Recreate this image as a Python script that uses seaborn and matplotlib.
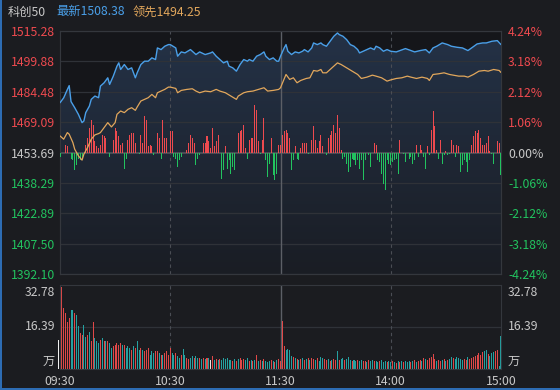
import numpy as np
import matplotlib
matplotlib.use("Agg")
import matplotlib.pyplot as plt
from matplotlib.colors import LinearSegmentedColormap
from matplotlib.patches import Rectangle
import seaborn as sns

# ── 数据 ─────────────────────────────────────────────
prev_close = 1453.69
last_price = 1508.38
last_lead = 1494.25
vol_max = 32.78

price_ticks = [1392.10, 1407.50, 1422.89, 1438.29, 1453.69, 1469.09, 1484.48, 1499.88, 1515.28]
price_labels = ["1392.10", "1407.50", "1422.89", "1438.29", "1453.69",
                "1469.09", "1484.48", "1499.88", "1515.28"]
pct_labels = ["-4.24%", "-3.18%", "-2.12%", "-1.06%", "0.00%",
              "1.06%", "2.12%", "3.18%", "4.24%"]
time_ticks = [0, 60, 120, 180, 240]
time_labels = ["09:30", "10:30", "11:30", "14:00", "15:00"]

# 最新价 (分钟序号, 点位)
blue_min = [0, 2, 4, 5, 6, 8, 10, 12, 13, 14, 16, 17, 19, 21, 22, 24, 26, 27, 29, 31,
            32, 33, 35, 37, 39, 41, 42, 44, 46, 48, 50, 52, 53, 55, 57, 59, 60, 63, 64, 66,
            68, 71, 72, 74, 76, 79, 82, 83, 85, 87, 89, 91, 92, 94, 96, 98, 100, 102, 103, 105,
            107, 109, 111, 112, 114, 116, 118, 119, 120, 122, 123, 124, 126, 128, 130, 132, 133, 135, 137, 138,
            140, 142, 143, 145, 147, 149, 151, 152, 154, 156, 158, 160, 162, 163, 165, 167, 169, 171, 172, 174,
            176, 178, 180, 183, 185, 188, 191, 193, 196, 199, 201, 203, 205, 208, 211, 213, 216, 219, 222, 224,
            227, 230, 232, 235, 238, 240]
blue_px = [1478.90, 1481.40, 1485.60, 1487.60, 1479.50, 1476.41, 1473.04, 1468.84, 1469.68, 1473.89,
           1477.25, 1480.62, 1482.30, 1481.46, 1487.35, 1489.03, 1491.56, 1488.19, 1492.40, 1497.45,
           1499.13, 1495.77, 1498.29, 1495.77, 1496.61, 1491.56, 1494.08, 1498.29, 1499.97, 1499.97,
           1501.66, 1500.81, 1506.70, 1505.86, 1507.55, 1508.39, 1508.39, 1506.70, 1502.50, 1504.68,
           1504.18, 1505.86, 1505.02, 1503.34, 1504.68, 1503.34, 1504.18, 1504.68, 1502.50, 1500.81,
           1499.13, 1499.97, 1497.45, 1496.61, 1494.92, 1498.29, 1500.81, 1499.97, 1500.81, 1499.97,
           1502.50, 1503.34, 1504.68, 1502.50, 1500.81, 1501.66, 1499.97, 1499.97, 1502.50, 1506.70,
           1508.39, 1505.02, 1503.34, 1504.68, 1504.18, 1505.02, 1505.86, 1504.68, 1506.70, 1509.23,
           1508.39, 1509.23, 1508.39, 1507.55, 1510.07, 1512.60, 1514.28, 1513.44, 1512.60, 1510.91,
           1508.39, 1507.55, 1505.86, 1504.18, 1505.02, 1505.86, 1506.70, 1505.86, 1507.55, 1506.70,
           1505.02, 1505.86, 1505.02, 1504.68, 1505.36, 1506.37, 1505.36, 1504.68, 1505.36, 1505.86,
           1504.18, 1506.70, 1507.55, 1509.23, 1508.39, 1507.55, 1507.04, 1506.70, 1505.36, 1506.70,
           1508.72, 1509.23, 1509.23, 1510.07, 1510.41, 1508.38]

# 领先指标
lead_min = [0, 2, 4, 5, 7, 8, 10, 12, 13, 15, 17, 19, 21, 22, 24, 26, 28, 30, 31, 33,
            35, 37, 39, 41, 42, 44, 46, 48, 50, 52, 53, 55, 57, 59, 60, 63, 64, 66, 69, 72,
            74, 76, 79, 82, 85, 87, 90, 93, 96, 97, 100, 102, 105, 108, 111, 113, 116, 119, 120, 123,
            125, 127, 129, 131, 134, 136, 138, 140, 142, 143, 145, 148, 151, 153, 156, 159, 162, 164, 167, 170,
            172, 175, 178, 180, 183, 186, 189, 191, 194, 197, 200, 201, 203, 206, 209, 212, 214, 217, 220, 222,
            225, 228, 231, 233, 236, 239, 240]
lead_px = [1462.11, 1460.42, 1463.79, 1462.95, 1458.74, 1455.37, 1452.01, 1449.82, 1452.85, 1456.21,
           1460.42, 1462.61, 1463.28, 1463.79, 1466.31, 1468.84, 1466.65, 1468.84, 1473.04, 1474.73,
           1473.89, 1475.57, 1476.41, 1475.06, 1476.75, 1479.78, 1480.62, 1481.46, 1483.14, 1481.46,
           1483.98, 1484.83, 1485.67, 1486.85, 1486.85, 1486.17, 1483.98, 1485.16, 1485.67, 1486.00,
           1484.83, 1483.98, 1484.83, 1484.49, 1485.67, 1484.83, 1483.98, 1482.30, 1480.62, 1482.30,
           1483.98, 1484.49, 1484.83, 1485.67, 1486.51, 1484.83, 1485.16, 1485.67, 1486.51, 1493.24,
           1490.72, 1491.56, 1489.03, 1490.21, 1491.22, 1491.56, 1495.26, 1494.92, 1495.77, 1494.08,
           1494.08, 1496.61, 1499.13, 1498.29, 1496.61, 1494.92, 1493.24, 1491.22, 1491.89, 1492.90,
           1492.40, 1491.56, 1489.87, 1490.50, 1491.22, 1491.56, 1492.40, 1491.89, 1491.22, 1491.89,
           1491.22, 1490.21, 1493.24, 1493.58, 1494.08, 1493.24, 1492.90, 1492.40, 1492.40, 1491.89,
           1493.24, 1494.92, 1495.26, 1494.92, 1495.77, 1495.26, 1494.25]

# 买卖力道柱 (分钟序号, 强度)
flow_min = [0, 3, 4, 6, 7, 8, 9, 10, 11, 12, 14, 15, 16, 17, 18, 19, 20, 21, 22, 23,
            24, 25, 27, 29, 30, 31, 32, 33, 34, 35, 36, 37, 38, 39, 40, 41, 43, 44, 45, 46,
            47, 48, 49, 50, 51, 53, 54, 55, 56, 57, 58, 60, 61, 62, 63, 64, 65, 66, 69, 70,
            71, 72, 73, 74, 75, 76, 78, 79, 80, 81, 82, 83, 84, 85, 86, 88, 89, 90, 91, 92,
            93, 94, 95, 97, 98, 99, 100, 101, 102, 103, 104, 105, 106, 107, 108, 109, 110, 111, 112, 113,
            114, 115, 116, 117, 118, 119, 120, 121, 122, 123, 124, 125, 126, 127, 128, 129, 130, 131, 132, 133,
            134, 135, 137, 138, 139, 140, 141, 142, 143, 145, 146, 147, 148, 149, 150, 151, 152, 153, 154, 155,
            156, 157, 158, 159, 160, 161, 162, 163, 164, 165, 166, 168, 169, 171, 172, 173, 174, 175, 176, 177,
            178, 179, 180, 181, 182, 183, 184, 185, 187, 188, 190, 191, 192, 193, 194, 195, 196, 197, 198, 199,
            200, 201, 202, 203, 204, 205, 206, 207, 208, 209, 210, 211, 212, 213, 214, 215, 216, 217, 218, 219,
            220, 221, 222, 223, 224, 225, 226, 227, 228, 229, 230, 231, 232, 233, 234, 235, 236, 238, 239, 240]
flow_val = [-5, 8, 7, -7, -8, -18, -13, -7, -8, -7, 8, 15, 25, 33, 28, 12, 7, 5, 8, 18,
            17, 15, -5, 13, 25, 22, 17, 8, 10, -17, -7, 13, 18, 20, 20, 10, -2, 18, 10, 37,
            33, 7, 8, 7, -3, 20, 15, -7, 33, 15, 15, 22, 22, -5, -7, -15, -8, -5, 3, 10,
            18, 15, 10, -13, -7, -3, 10, 10, 17, 12, 5, 25, 7, 12, 18, -27, -18, 7, -17, -8,
            -22, -15, -18, 20, 22, 23, 28, 5, -7, 13, 15, 15, 48, 43, 12, -2, 13, 35, -8, -25,
            -12, 15, -23, -28, -22, 8, 8, 18, 22, 23, 20, 15, -18, -8, 7, -7, -8, 5, 10, 10,
            10, -2, 13, 27, 13, 5, 12, 18, 7, -3, 15, 18, 22, 28, 20, 38, 25, 3, -7, -5,
            -12, -20, -15, -7, -8, -13, -8, -17, -8, -28, -8, -3, -15, 10, 8, -8, -10, -22, -32, -38,
            -8, -12, -13, -10, -8, -7, -22, 13, -2, -10, -7, -5, -12, -8, 8, -5, 8, 3, -5, -17,
            7, -3, 23, 42, 27, 3, -7, 13, -12, -3, 2, -3, -2, 13, 8, -5, 8, 7, -20, -13,
            -8, -10, -20, -8, 8, 17, 22, 20, 23, 15, 8, 8, 10, 17, 2, -2, -12, 12, 10, -23]

# 成交量 (万), 每分钟一根
auction_vol = 11.4
volume = [
    32.78, 32.1, 23.7, 21.8, 18.5, 19.8, 23.1, 23.1, 21.8, 21.1,
    16.6, 14.0, 13.3, 17.2, 12.6, 13.3, 14.6, 10.8, 18.5, 12.0,
    10.8, 10.1, 11.4, 12.0, 10.8, 10.8, 10.8, 10.1, 8.2, 8.8,
    9.5, 10.1, 9.5, 10.1, 9.5, 9.5, 8.2, 8.8, 8.2, 7.5,
    8.8, 8.2, 10.8, 7.5, 8.2, 7.5, 6.9, 7.5, 8.2, 5.6,
    6.9, 6.2, 7.0, 6.9, 6.2, 5.6, 5.6, 6.2, 6.9, 5.6,
    8.2, 6.2, 5.6, 6.2, 5.0, 4.4, 5.6, 7.8, 5.6, 4.4,
    3.9, 4.4, 5.0, 4.4, 5.0, 4.4, 4.4, 3.9, 4.4, 3.9,
    4.4, 4.4, 3.6, 5.0, 3.6, 3.9, 3.6, 3.9, 3.6, 4.4,
    3.9, 4.4, 3.6, 3.6, 3.2, 3.9, 3.2, 3.9, 4.4, 3.6,
    3.9, 3.6, 4.4, 3.2, 3.6, 3.2, 3.6, 5.6, 3.2, 3.6,
    3.2, 3.9, 3.2, 2.8, 3.2, 3.6, 3.2, 2.8, 3.6, 3.9,
    3.2,
    18.9, 9.1, 7.3, 7.8, 7.5, 5.2, 4.7, 4.3, 4.0, 3.6,
    3.9, 4.3, 3.6, 4.0, 4.3, 3.6, 4.3, 4.0, 3.6, 4.3,
    3.2, 4.7, 4.3, 4.0, 3.6, 3.9, 3.2, 3.6, 4.0, 3.6,
    7.1, 3.6, 3.9, 4.3, 3.6, 4.0, 4.7, 3.6, 3.2, 3.6,
    3.2, 3.6, 3.2, 3.6, 3.2, 3.2, 2.8, 3.6, 3.2, 3.6,
    3.2, 3.2, 2.8, 3.2, 3.6, 2.8, 3.2, 2.8, 3.2, 2.8,
    3.2, 2.8, 2.4, 3.2, 2.8, 3.2, 2.8, 3.2, 2.8, 3.2,
    2.8, 3.2, 3.6, 2.8, 3.2, 3.6, 3.2, 4.3, 4.0, 3.6,
    4.3, 4.7, 5.7, 4.0, 3.2, 3.6, 3.2, 3.6, 3.9, 3.2,
    3.6, 4.0, 4.7, 4.3, 4.0, 4.7, 4.3, 4.0, 3.6, 4.0,
    3.6, 4.7, 4.0, 4.3, 4.7, 5.0, 5.4, 6.1, 5.4, 6.6,
    7.0, 7.6, 5.7, 5.2, 6.2, 6.6, 7.1, 7.6, 1.0, 13.0,
]
vol_dir = ("rrrrrrttrt" "trrttrtrrt" "ttrtrtrttr" "rrrrtrtttr" "trttrtrrrt" "ttrrtrtrrr"
           "rttrttrttr" "rttrttrtrt" "rtwrtrtrtt" "ttttrtrtrr" "rttrtrtrtr" "trtttrtrtr"
           "r"
           "rrttttrtrt" "rtrtrtrrtr" "tttrrtrtrr" "trttrtttrt" "trttrrtrtt" "rttrtttrtt"
           "rtrtrtrttt" "rtrtrrtrtr" "rrrrtrrtrt" "rttrtttttr" "rtrrrrrrrr" "ttrtttrrtt")

# ── 样式 ─────────────────────────────────────────────
BG = "#1b1c20"
PLOT_BG = "#15161a"
GRID = "#2f3238"
RED = "#ee4a4f"
GREEN = "#22c35f"
GREY = "#c8c8c8"
BLUE = "#4a9fe8"
ORANGE = "#e2a75c"
VOL_COL = {"r": "#e04848", "t": "#25a1a1", "w": "#e6e6e6"}
FS = 8.8

sns.set_theme(style="dark", rc={"patch.edgecolor": "none", "patch.force_edgecolor": False})
plt.rcParams["font.family"] = ["Noto Sans CJK SC", "DejaVu Sans"]
plt.rcParams["font.size"] = FS
plt.rcParams["xtick.labelsize"] = FS
plt.rcParams["ytick.labelsize"] = FS

fig = plt.figure(figsize=(5.6, 3.9), dpi=100, facecolor=BG)
W, H = 560, 390
main_rect = [60 / W, 1 - 274 / H, 441 / W, 243 / H]
vol_rect = [60 / W, 1 - 369 / H, 441 / W, 84 / H]
ymin, ymax = price_ticks[0], price_ticks[-1]

# 底层: 背景, 网格, 渐变
axg = fig.add_axes(main_rect, zorder=1, label="grid")
axg.set_facecolor(PLOT_BG)

grad = np.linspace(1, 0, 256).reshape(-1, 1)
cmap = LinearSegmentedColormap.from_list("fill", ["#1a1d24", "#243247"])
img = axg.imshow(grad, extent=[0, 240, ymin, ymax], aspect="auto", cmap=cmap,
                 origin="upper", zorder=0.5)
poly = axg.fill_between(blue_min, blue_px, ymin, color="none", linewidth=0)
img.set_clip_path(poly.get_paths()[0], transform=axg.transData)
axg.set_xlim(0, 240)
axg.set_ylim(ymin, ymax)

for t in price_ticks:
    if t == prev_close:
        axg.axhline(t, color="#4a4d55", lw=1.4, zorder=2)
    else:
        axg.axhline(t, color=GRID, lw=0.9, zorder=2)
for x in [60, 180]:
    axg.axvline(x, color="#4a4d54", lw=0.8, ls=(0, (3, 3)), zorder=2)
axg.axvline(120, color="#5c5f66", lw=1.0, zorder=2)


def tick_color(v):
    if abs(v - prev_close) < 0.01:
        return GREY
    return RED if v > prev_close else GREEN


axg.set_xticks([])
axg.set_yticks(price_ticks)
axg.set_yticklabels(price_labels)
axg.tick_params(axis="y", length=0, pad=3.5)
for lbl, v in zip(axg.get_yticklabels(), price_ticks):
    lbl.set_color(tick_color(v))
axg.grid(False)
for s in axg.spines.values():
    s.set_color("#34373d")
    s.set_linewidth(0.8)

axr = axg.twinx()
axr.set_ylim(ymin, ymax)
axr.set_yticks(price_ticks)
axr.set_yticklabels(pct_labels)
axr.tick_params(axis="y", length=0, pad=5)
for lbl, v in zip(axr.get_yticklabels(), price_ticks):
    lbl.set_color(tick_color(v))
axr.grid(False)
for s in axr.spines.values():
    s.set_color("#34373d")
    s.set_linewidth(0.8)

# 中层: 力道柱
axf = fig.add_axes(main_rect, zorder=2, label="flow")
axf.patch.set_visible(False)
flow_colors = [RED if v > 0 else GREEN for v in flow_val]
axf.bar(flow_min, flow_val, width=0.55, color=flow_colors, edgecolor="none",
        linewidth=0, antialiased=False)
axf.set_xlim(0, 240)
axf.set_ylim(-122, 122)
axf.axis("off")

# 顶层: 价格线
ax = fig.add_axes(main_rect, zorder=3, label="price")
ax.patch.set_visible(False)
sns.lineplot(x=lead_min, y=lead_px, ax=ax, color=ORANGE, linewidth=0.9)
sns.lineplot(x=blue_min, y=blue_px, ax=ax, color=BLUE, linewidth=1.0)
ax.set_xlim(0, 240)
ax.set_ylim(ymin, ymax)
ax.axis("off")

# 成交量
axv = fig.add_axes(vol_rect, label="vol")
axv.set_facecolor(BG)
minutes = np.arange(len(volume))
axv.bar(minutes, volume, width=0.55, color=[VOL_COL[c] for c in vol_dir],
        edgecolor="none", linewidth=0, antialiased=False)
axv.bar(-0.75, auction_vol, width=0.6, color="#f0f0f0", edgecolor="none",
        linewidth=0, clip_on=False, antialiased=False)
axv.set_xlim(0, 240)
axv.set_ylim(0, vol_max)
axv.axhline(vol_max / 2, color=GRID, lw=0.9, zorder=0)
for x in [60, 180]:
    axv.axvline(x, color="#4a4d54", lw=0.8, ls=(0, (3, 3)), zorder=0)
axv.axvline(120, color="#5c5f66", lw=1.0, zorder=0)
axv.set_yticks([])
axv.set_xticks(time_ticks)
axv.set_xticklabels(time_labels, color=GREY)
axv.tick_params(axis="x", length=0, pad=4)
axv.grid(False)
for s in axv.spines.values():
    s.set_color("#34373d")
    s.set_linewidth(0.8)

for xa, ha in [(-0.011, "right"), (1.016, "left")]:
    axv.text(xa, 0.905, f"{vol_max:.2f}", transform=axv.transAxes, ha=ha, va="center", color=GREY)
    axv.text(xa, 0.5, f"{vol_max / 2:.2f}", transform=axv.transAxes, ha=ha, va="center", color=GREY)
    axv.text(xa, 0.085, "万", transform=axv.transAxes, ha=ha, va="center", color=GREY)

# 标题
fig.text(8 / W, 1 - 12 / H, "科创50", color=GREY, ha="left", va="center")
fig.text(56 / W, 1 - 12 / H, f"最新{last_price:.2f}", color=BLUE, ha="left", va="center")
fig.text(133 / W, 1 - 12 / H, f"领先{last_lead:.2f}", color=ORANGE, ha="left", va="center")

# 窗口边框
fig.add_artist(Rectangle((0, 0), 2 / W, 1, transform=fig.transFigure, color="#2d6cb3", lw=0))
fig.add_artist(Rectangle((0, 0), 1, 2 / H, transform=fig.transFigure, color="#2d6cb3", lw=0))

fig.savefig("out.png", dpi=100, facecolor=BG)
